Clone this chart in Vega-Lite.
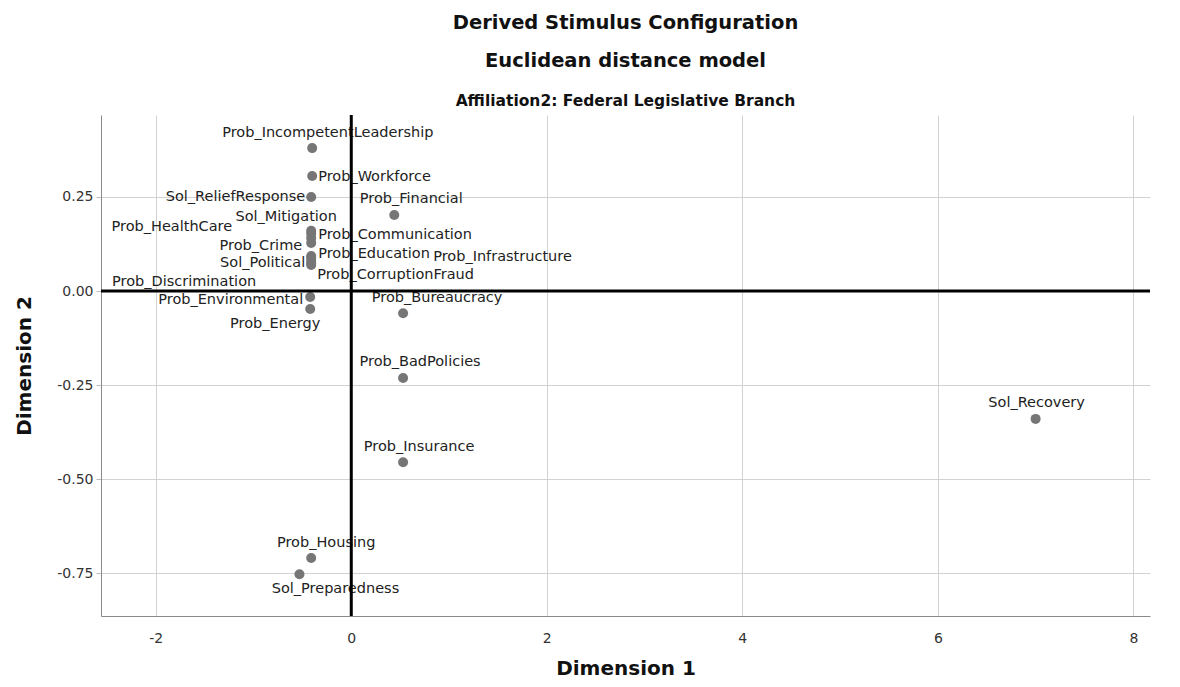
{
  "$schema": "https://vega.github.io/schema/vega-lite/v6.json",
  "autosize": {"type": "none"},
  "padding": {"left": 101, "top": 115, "right": 30, "bottom": 71},
  "width": 1049,
  "height": 501,
  "background": "white",
  "config": {
    "view": {"stroke": null},
    "font": "DejaVu Sans",
    "locale": {"number": {"decimal": ".", "thousands": ",", "grouping": [3], "currency": ["$", ""], "minus": "-"}},
    "text": {"font": "DejaVu Sans", "fontSize": 14.5, "color": "#222222"}
  },
  "title": {
    "text": ["Derived Stimulus Configuration", "Euclidean distance model"],
    "subtitle": "Affiliation2: Federal Legislative Branch",
    "font": "DejaVu Sans",
    "fontSize": 19.5,
    "fontWeight": "bold",
    "lineHeight": 38,
    "color": "#111111",
    "subtitleFont": "DejaVu Sans",
    "subtitleFontSize": 15.5,
    "subtitleFontWeight": "bold",
    "subtitleColor": "#111111",
    "subtitlePadding": 23,
    "anchor": "middle",
    "offset": 3
  },
  "data": {
    "values": [
      {"label": "Prob_IncompetentLeadership", "dim1": -0.40, "dim2": 0.380},
      {"label": "Prob_Workforce", "dim1": -0.40, "dim2": 0.306},
      {"label": "Sol_ReliefResponse", "dim1": -0.41, "dim2": 0.250},
      {"label": "Sol_Mitigation", "dim1": -0.41, "dim2": 0.160},
      {"label": "Prob_HealthCare", "dim1": -0.41, "dim2": 0.152},
      {"label": "Prob_Financial", "dim1": 0.44, "dim2": 0.202},
      {"label": "Prob_Communication", "dim1": -0.41, "dim2": 0.141},
      {"label": "Prob_Crime", "dim1": -0.41, "dim2": 0.128},
      {"label": "Prob_Education", "dim1": -0.41, "dim2": 0.093},
      {"label": "Prob_Infrastructure", "dim1": -0.41, "dim2": 0.088},
      {"label": "Sol_Political", "dim1": -0.41, "dim2": 0.080},
      {"label": "Prob_CorruptionFraud", "dim1": -0.41, "dim2": 0.069},
      {"label": "Prob_Discrimination", "dim1": -0.41, "dim2": 0.074},
      {"label": "Prob_Environmental", "dim1": -0.42, "dim2": -0.016},
      {"label": "Prob_Energy", "dim1": -0.42, "dim2": -0.048},
      {"label": "Prob_Bureaucracy", "dim1": 0.53, "dim2": -0.059},
      {"label": "Prob_BadPolicies", "dim1": 0.53, "dim2": -0.231},
      {"label": "Prob_Insurance", "dim1": 0.53, "dim2": -0.455},
      {"label": "Sol_Recovery", "dim1": 7.00, "dim2": -0.340},
      {"label": "Prob_Housing", "dim1": -0.41, "dim2": -0.710},
      {"label": "Sol_Preparedness", "dim1": -0.53, "dim2": -0.753}
    ]
  },
  "encoding": {
    "x": {
      "field": "dim1", "type": "quantitative",
      "scale": {"domain": [-2.56, 8.17], "nice": false, "zero": false},
      "axis": {
        "title": "Dimension 1", "values": [-2, 0, 2, 4, 6, 8], "format": "d",
        "grid": true, "gridColor": "#d2d2d2", "gridWidth": 1,
        "domainColor": "#8a8a8a", "domainWidth": 1, "ticks": false,
        "labelFont": "DejaVu Sans", "labelFontSize": 14, "labelColor": "#333333", "labelPadding": 15,
        "titleFont": "DejaVu Sans", "titleFontSize": 20, "titleFontWeight": "bold", "titleColor": "#111111", "titlePadding": 13
      }
    },
    "y": {
      "field": "dim2", "type": "quantitative",
      "scale": {"domain": [-0.864, 0.468], "nice": false, "zero": false},
      "axis": {
        "title": "Dimension 2", "values": [-0.75, -0.5, -0.25, 0, 0.25], "format": ".2f",
        "grid": true, "gridColor": "#d2d2d2", "gridWidth": 1,
        "domainColor": "#8a8a8a", "domainWidth": 1, "ticks": true, "tickSize": 5, "tickColor": "#bbbbbb",
        "labelFont": "DejaVu Sans", "labelFontSize": 14, "labelColor": "#333333", "labelPadding": 3,
        "titleFont": "DejaVu Sans", "titleFontSize": 20, "titleFontWeight": "bold", "titleColor": "#111111", "titlePadding": 22
      }
    },
    "text": {"field": "label", "type": "nominal"}
  },
  "layer": [
    {"mark": {"type": "point", "filled": true, "shape": "circle", "size": 100, "color": "#767676", "opacity": 1}},
    {"transform": [{"filter": "datum.label === 'Prob_IncompetentLeadership'"}], "mark": {"type": "text", "align": "left", "baseline": "middle", "dx": -90, "dy": -15}},
    {"transform": [{"filter": "datum.label === 'Prob_Workforce'"}], "mark": {"type": "text", "align": "left", "baseline": "middle", "dx": 6, "dy": 1}},
    {"transform": [{"filter": "datum.label === 'Sol_ReliefResponse'"}], "mark": {"type": "text", "align": "right", "baseline": "middle", "dx": -6, "dy": 0}},
    {"transform": [{"filter": "datum.label === 'Sol_Mitigation'"}], "mark": {"type": "text", "align": "center", "baseline": "middle", "dx": -25, "dy": -14}},
    {"transform": [{"filter": "datum.label === 'Prob_HealthCare'"}], "mark": {"type": "text", "align": "right", "baseline": "middle", "dx": -79, "dy": -7}},
    {"transform": [{"filter": "datum.label === 'Prob_Financial'"}], "mark": {"type": "text", "align": "center", "baseline": "middle", "dx": 17, "dy": -16}},
    {"transform": [{"filter": "datum.label === 'Prob_Communication'"}], "mark": {"type": "text", "align": "left", "baseline": "middle", "dx": 7, "dy": -3}},
    {"transform": [{"filter": "datum.label === 'Prob_Crime'"}], "mark": {"type": "text", "align": "right", "baseline": "middle", "dx": -9, "dy": 3}},
    {"transform": [{"filter": "datum.label === 'Prob_Education'"}], "mark": {"type": "text", "align": "left", "baseline": "middle", "dx": 7, "dy": -2}},
    {"transform": [{"filter": "datum.label === 'Prob_Infrastructure'"}], "mark": {"type": "text", "align": "left", "baseline": "middle", "dx": 122, "dy": -1}},
    {"transform": [{"filter": "datum.label === 'Sol_Political'"}], "mark": {"type": "text", "align": "right", "baseline": "middle", "dx": -6, "dy": 2}},
    {"transform": [{"filter": "datum.label === 'Prob_CorruptionFraud'"}], "mark": {"type": "text", "align": "left", "baseline": "middle", "dx": 6, "dy": 10}},
    {"transform": [{"filter": "datum.label === 'Prob_Discrimination'"}], "mark": {"type": "text", "align": "right", "baseline": "middle", "dx": -55, "dy": 19}},
    {"transform": [{"filter": "datum.label === 'Prob_Environmental'"}], "mark": {"type": "text", "align": "right", "baseline": "middle", "dx": -7, "dy": 3}},
    {"transform": [{"filter": "datum.label === 'Prob_Energy'"}], "mark": {"type": "text", "align": "center", "baseline": "middle", "dx": -35, "dy": 15}},
    {"transform": [{"filter": "datum.label === 'Prob_Bureaucracy'"}], "mark": {"type": "text", "align": "center", "baseline": "middle", "dx": 34, "dy": -15}},
    {"transform": [{"filter": "datum.label === 'Prob_BadPolicies'"}], "mark": {"type": "text", "align": "center", "baseline": "middle", "dx": 17, "dy": -16}},
    {"transform": [{"filter": "datum.label === 'Prob_Insurance'"}], "mark": {"type": "text", "align": "center", "baseline": "middle", "dx": 16, "dy": -15}},
    {"transform": [{"filter": "datum.label === 'Sol_Recovery'"}], "mark": {"type": "text", "align": "center", "baseline": "middle", "dx": 1, "dy": -16}},
    {"transform": [{"filter": "datum.label === 'Prob_Housing'"}], "mark": {"type": "text", "align": "center", "baseline": "middle", "dx": 15, "dy": -15}},
    {"transform": [{"filter": "datum.label === 'Sol_Preparedness'"}], "mark": {"type": "text", "align": "center", "baseline": "middle", "dx": 36, "dy": 15}},
    {
      "data": {"values": [{"ref": 0}]},
      "mark": {"type": "rule", "color": "black", "strokeWidth": 3},
      "encoding": {"x": {"field": "ref", "type": "quantitative"}, "y": null, "text": null}
    },
    {
      "data": {"values": [{"ref": 0}]},
      "mark": {"type": "rule", "color": "black", "strokeWidth": 3},
      "encoding": {"y": {"field": "ref", "type": "quantitative"}, "x": null, "text": null}
    }
  ]
}
